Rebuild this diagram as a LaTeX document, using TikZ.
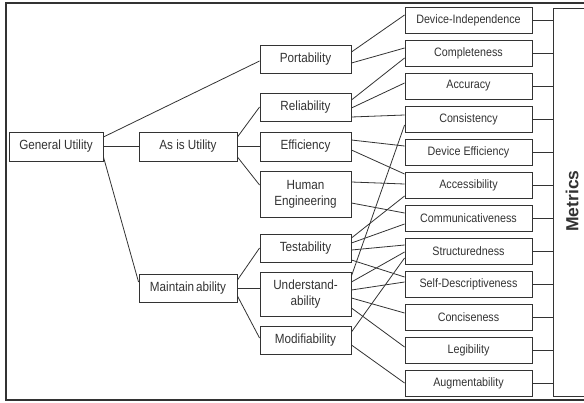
\documentclass[tikz,border=0pt]{standalone}
\usepackage{fontspec}
\setmainfont{Liberation Sans}[FakeStretch=0.88]
\newfontfamily\metricsfont{Liberation Sans}
\usetikzlibrary{calc}
\definecolor{ink}{HTML}{333333}
\begin{document}
\begin{tikzpicture}[x=1pt,y=-1pt,
  box/.style={draw=ink, line width=0.9pt, fill=white, text=ink, inner sep=0pt,
    align=center, font=\fontsize{13.3}{16}\selectfont},
  mid/.style={box, minimum width=91pt, minimum height=28pt},
  leaf/.style={box, minimum width=127pt, minimum height=26pt,
    font=\fontsize{12.2}{14}\selectfont},
  link/.style={draw=ink, line width=0.8pt}]
\useasboundingbox (0,0) rectangle (584,402);
% outer frame
\draw[line width=1.6pt, draw=ink] (6,3) rectangle (610,400);

% top levels
\node[box, minimum width=94pt, minimum height=29pt] (gu) at (56,146.5) {General Utility};
\node[box, minimum width=98pt, minimum height=29pt] (asis) at (188,146.5) {As is Utility};
\node[box, minimum width=98pt, minimum height=28pt] (maint) at (188,288) {Maintain\kern2pt ability};

% intermediate characteristics
\node[mid] (port) at (305.5,59) {Portability};
\node[mid] (rel) at (305.5,107) {Reliability};
\node[mid, minimum height=29pt] (eff) at (305.5,146.5) {Efficiency};
\node[mid, minimum height=46pt] (hum) at (305.5,194) {Human\\Engineering};
\node[mid] (test) at (305.5,248) {Testability};
\node[mid, minimum height=44pt] (und) at (305.5,294) {Understand-\\ability};
\node[mid] (mod) at (305.5,340.5) {Modifiability};

% primitive characteristics
\node[leaf] (di) at (468.5,20) {Device-Independence};
\node[leaf] (comp) at (468.5,53) {Completeness};
\node[leaf] (acc) at (468.5,86) {Accuracy};
\node[leaf] (cons) at (468.5,119) {Consistency};
\node[leaf] (deff) at (468.5,152) {Device Efficiency};
\node[leaf] (access) at (468.5,185) {Accessibility};
\node[leaf] (comm) at (468.5,218) {Communicativeness};
\node[leaf] (struct) at (468.5,251) {Structuredness};
\node[leaf] (selfd) at (468.5,284) {Self-Descriptiveness};
\node[leaf] (conc) at (468.5,317) {Conciseness};
\node[leaf] (leg) at (468.5,350) {Legibility};
\node[leaf] (aug) at (468.5,383) {Augmentability};

% metrics column
\node[draw=ink, line width=0.9pt, anchor=north west, minimum width=60pt,
  minimum height=388pt, inner sep=0pt] (met) at (553,8) {};
\node[rotate=90, text=ink, font=\metricsfont\bfseries\fontsize{17.5}{20}\selectfont]
  (mettext) at (572,201) {Metrics};

% first level links
\draw[link] ([yshift=9.5pt]gu.east) -- ([yshift=-2pt]port.west);
\draw[link] (gu.east) -- (asis.west);
\draw[link] ([yshift=-10.5pt]gu.east) -- ([yshift=6pt]maint.west);

% second level links
\draw[link] ([yshift=9.5pt]asis.east) -- (rel.west);
\draw[link] (asis.east) -- (eff.west);
\draw[link] ([yshift=-10.5pt]asis.east) -- ([yshift=9pt]hum.west);
\draw[link] ([yshift=8pt]maint.east) -- (test.west);
\draw[link] (maint.east) -- ([yshift=6pt]und.west);
\draw[link] ([yshift=-8pt]maint.east) -- ([yshift=2.5pt]mod.west);

% links to primitive characteristics
\draw[link] ([yshift=7pt]port.east) -- ([yshift=5pt]di.west);
\draw[link] ([yshift=-4pt]port.east) -- ([yshift=5pt]comp.west);
\draw[link] ([yshift=7pt]rel.east) -- ([yshift=-5pt]comp.west);
\draw[link] ([yshift=-1pt]rel.east) -- ([yshift=3pt]acc.west);
\draw[link] ([yshift=-10pt]rel.east) -- ([yshift=4pt]cons.west);
\draw[link] ([yshift=6.5pt]eff.east) -- ([yshift=6pt]deff.west);
\draw[link] ([yshift=-3.5pt]eff.east) -- ([yshift=11pt]access.west);
\draw[link] ([yshift=12pt]hum.east) -- ([yshift=1pt]access.west);
\draw[link] ([yshift=-9pt]hum.east) -- ([yshift=5pt]comm.west);
\draw[link] ([yshift=10pt]test.east) -- ([yshift=-11pt]access.west);
\draw[link] ([yshift=5pt]test.east) -- ([yshift=-6pt]comm.west);
\draw[link] ([yshift=-2pt]test.east) -- ([yshift=6pt]struct.west);
\draw[link] ([yshift=-12pt]test.east) -- ([yshift=7pt]selfd.west);
\draw[link] ([yshift=18pt]und.east) -- ([yshift=-6pt]cons.west);
\draw[link] ([yshift=12pt]und.east) -- ([yshift=-1pt]struct.west);
\draw[link] ([yshift=4pt]und.east) -- ([yshift=2pt]selfd.west);
\draw[link] ([yshift=-4pt]und.east) -- ([yshift=4pt]conc.west);
\draw[link] ([yshift=-14pt]und.east) -- ([yshift=3pt]leg.west);
\draw[link] ([yshift=8.5pt]mod.east) -- ([yshift=-7pt]struct.west);
\draw[link] ([yshift=-4.5pt]mod.east) -- (aug.west);

% links to the metrics column
\foreach \n in {di,comp,acc,cons,deff,access,comm,struct,selfd,conc,leg,aug}
  \draw[link] (\n.east) -- (\n.east -| met.west);
\end{tikzpicture}
\end{document}
